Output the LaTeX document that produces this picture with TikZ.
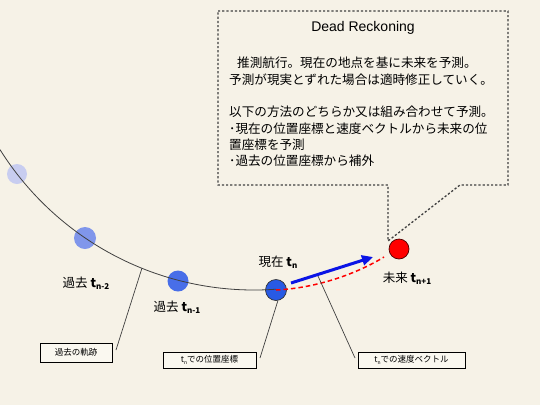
\documentclass[tikz,border=0pt]{standalone}
\usepackage{fontspec}
\setmainfont{Liberation Sans}
\newfontfamily\jp{Noto Sans CJK JP}
\usetikzlibrary{arrows.meta}
\definecolor{bgcream}{RGB}{246,242,231}
\definecolor{boxcream}{RGB}{250,248,240}
\definecolor{dotc1}{RGB}{200,205,240}
\definecolor{dotc2}{RGB}{128,150,235}
\definecolor{dotc3}{RGB}{72,110,232}
\definecolor{dotnow}{RGB}{40,90,228}
\definecolor{vecblue}{RGB}{10,20,230}
\definecolor{redfut}{RGB}{255,0,0}
\newcommand{\tsub}[1]{{\bfseries t}\raisebox{-0.3ex}{\bfseries\fontsize{8}{8}\selectfont #1}}
\newcommand{\tsmall}[1]{{t}\raisebox{-0.3ex}{\fontsize{5}{5}\selectfont #1}}
\begin{document}
\begin{tikzpicture}[x=1pt,y=-1pt,
  dotpt/.style={circle,inner sep=0pt,minimum size=#1},
  lbl/.style={font=\jp\fontsize{12.5}{14}\selectfont,inner sep=0pt},
  tagbox/.style={draw=black,line width=0.8pt,fill=boxcream,inner sep=0pt,font=\jp\fontsize{8.5}{10}\selectfont},
  leader/.style={draw=black!75,line width=0.7pt},
  calloutline/.style={draw=black!75,line width=1.3pt,dash pattern=on 2.2pt off 2pt}]
\fill[bgcream] (0,0) rectangle (540,405);
\useasboundingbox (0,0) rectangle (540,405);

% points on the trajectory
\node[dotpt=20pt,fill=dotc1] (p1) at (17,174) {};
\node[dotpt=22pt,fill=dotc2] (p2) at (85,238) {};
\node[dotpt=21pt,fill=dotc3] (p3) at (178,281) {};
\node[dotpt=21pt,fill=dotnow,draw=black!80,line width=0.7pt] (pn) at (276,290) {};
\node[dotpt=20pt,fill=redfut,draw=black!70!red,line width=0.7pt] (pf) at (399,249) {};

% trajectory (circular arc)
\draw[black!75,line width=0.8pt] plot[domain=0:276,samples=80] (\x,{10*sqrt(900-((\x-254)/10)^2)-10});

% predicted path
\draw[redfut,line width=1.5pt,dash pattern=on 4.5pt off 3pt] (pn.center) .. controls (318,288) and (358,273) .. (384,257);
% velocity vector
\coordinate (vs) at (291,283);
\coordinate (ve) at (373,257);
\draw[vecblue,line width=3pt,-{Triangle[length=11pt,width=10pt]}] (vs) -- (ve);

% labels
\node[lbl] (lnow) at (278,262) {現在 \tsub{n}};
\node[lbl] (lfut) at (407,278) {未来 \tsub{n+1}};
\node[lbl] (lp2) at (86,283) {過去 \tsub{n-2}};
\node[lbl] (lp1) at (177,307) {過去 \tsub{n-1}};

% tag boxes
\node[tagbox,minimum width=72pt,minimum height=19pt] (b1) at (76,352.5) {過去の軌跡};
\node[tagbox,minimum width=93pt,minimum height=16pt] (b2) at (209.5,360) {\tsmall{n}での位置座標};
\node[tagbox,minimum width=107pt,minimum height=16pt] (b3) at (411.5,360) {\tsmall{n}での速度ベクトル};

\coordinate (l1s) at (116,350);
\coordinate (l1e) at (142,268);
\draw[leader] (l1s) -- (l1e);
\coordinate (l2s) at (260,358);
\draw[leader] (l2s) -- (pn.-80);
\coordinate (l3s) at (355,358);
\coordinate (l3e) at (318,276);
\draw[leader] (l3s) -- (l3e);

% callout
\draw[calloutline] (218,11) -- (508,11) -- (508,185) -- (460,185) -- (388,241) -- (388,185) -- (218,185) -- cycle;
\node[font=\fontsize{14}{16}\selectfont,inner sep=0pt] (title) at (363,28) {Dead Reckoning};
\node[anchor=north west,align=left,inner sep=0pt,font=\jp\fontsize{12.6}{16.3}\selectfont] (body) at (229,57)
 {\hspace*{8pt}推測航行。現在の地点を基に未来を予測。\\
 予測が現実とずれた場合は適時修正していく。\\[16.3pt]
 以下の方法のどちらか又は組み合わせて予測。\\
 ･現在の位置座標と速度ベクトルから未来の位\\
 置座標を予測\\
 ･過去の位置座標から補外};
\end{tikzpicture}
\end{document}
